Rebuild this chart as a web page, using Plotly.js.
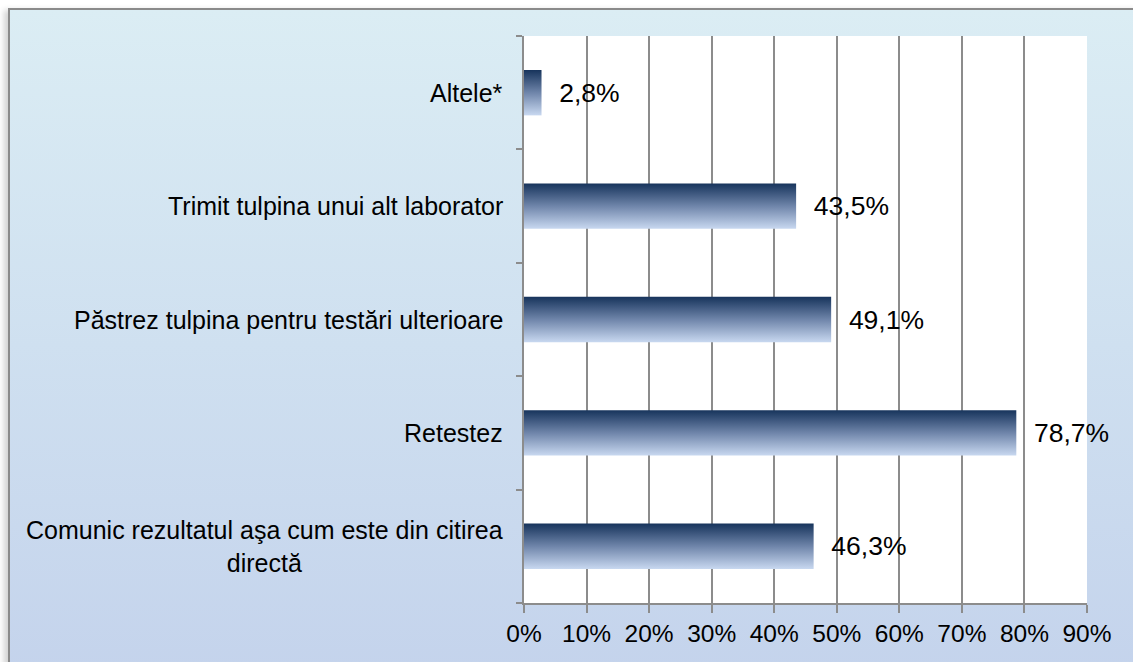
<!DOCTYPE html>
<html>
<head>
<meta charset="utf-8">
<script src="https://cdn.plot.ly/plotly-3.0.1.min.js"></script>
<style>
  html, body { margin: 0; padding: 0; background: #ffffff; overflow: hidden; }
  #frame {
    position: absolute; left: 8px; top: 8px; width: 1140px; height: 670px;
    border-left: 2px solid #8a8a8a; border-top: 2px solid #8a8a8a;
    background: linear-gradient(to bottom, #dbedf4 0%, #cfe0f0 50%, #c4d3ec 100%);
    box-shadow: -4px 2px 6px rgba(0,0,0,0.18);
  }
  #chart { position: absolute; left: 0; top: 0; width: 1133px; height: 662px; }
</style>
</head>
<body>
<div id="frame"></div>
<div id="chart"></div>
<script>
const categories = [
  "Comunic rezultatul aşa cum este din citirea<br>directă",
  "Retestez",
  "Păstrez tulpina pentru testări ulterioare",
  "Trimit tulpina unui alt laborator",
  "Altele*"
];
const values = [46.3, 78.7, 49.1, 43.5, 2.8];
const tickValues = [0, 10, 20, 30, 40, 50, 60, 70, 80, 90];
const tickLabels = ["0%", "10%", "20%", "30%", "40%", "50%", "60%", "70%", "80%", "90%"];

const FONT = "Liberation Sans, Arial, sans-serif";
const FS = 25;

const trace = {
  type: "bar",
  orientation: "h",
  x: values,
  y: categories.map((c, i) => i),
  width: 0.4,
  marker: { color: "#5a7099", line: { width: 0 } },
  texttemplate: "  %{x:.1f}%",
  textposition: "outside",
  cliponaxis: false,
  textfont: { family: FONT, size: 26.5, color: "#000000" },
  hoverinfo: "none"
};

const annotations = categories.map((c, i) => ({
  xref: "paper", yref: "y", x: 0, y: i,
  xanchor: "right", yanchor: "middle",
  xshift: -19,
  text: c, align: "center", showarrow: false,
  font: { family: FONT, size: FS, color: "#000000" }
}));

const layout = {
  width: 1133, height: 662,
  margin: { l: 524, r: 46, t: 36, b: 59, pad: 0 },
  paper_bgcolor: "rgba(0,0,0,0)",
  plot_bgcolor: "#ffffff",
  separators: ",.",
  showlegend: false,
  font: { family: FONT, size: FS, color: "#000000" },
  xaxis: {
    range: [0, 90],
    tickmode: "array",
    tickvals: tickValues,
    ticktext: tickLabels,
    showgrid: true, gridcolor: "#8c8c8c", gridwidth: 2,
    zeroline: false,
    showline: true, linecolor: "#8c8c8c", linewidth: 2,
    ticks: "outside", ticklen: 8, tickwidth: 2, tickcolor: "#8c8c8c",
    tickfont: { family: FONT, size: 24.5, color: "#000000" },
    fixedrange: true
  },
  yaxis: {
    type: "linear",
    range: [-0.5, 4.5],
    tickvals: [-0.5, 0.5, 1.5, 2.5, 3.5, 4.5],
    showticklabels: false,
    showgrid: false, zeroline: false,
    showline: true, linecolor: "#8c8c8c", linewidth: 2,
    ticks: "outside", ticklen: 6, tickwidth: 2, tickcolor: "#8c8c8c",
    fixedrange: true
  },
  bargap: 0.6,
  annotations: annotations
};

Plotly.newPlot("chart", [trace], layout, { staticPlot: true, displayModeBar: false }).then(gd => {
  const svg = gd.querySelector("svg.main-svg");
  let defs = svg.querySelector("defs");
  const NS = "http://www.w3.org/2000/svg";
  if (!defs) { defs = document.createElementNS(NS, "defs"); svg.insertBefore(defs, svg.firstChild); }
  const grad = document.createElementNS(NS, "linearGradient");
  grad.setAttribute("id", "barGrad");
  grad.setAttribute("x1", "0"); grad.setAttribute("y1", "0");
  grad.setAttribute("x2", "0"); grad.setAttribute("y2", "1");
  [["0%", "#17345c"], ["50%", "#6f85aa"], ["100%", "#c8d8f0"]].forEach(([o, c]) => {
    const s = document.createElementNS(NS, "stop");
    s.setAttribute("offset", o); s.setAttribute("stop-color", c);
    grad.appendChild(s);
  });
  defs.appendChild(grad);
  gd.querySelectorAll(".trace.bars .point path").forEach(p => {
    p.style.fill = "url(#barGrad)";
  });
});
</script>
</body>
</html>
